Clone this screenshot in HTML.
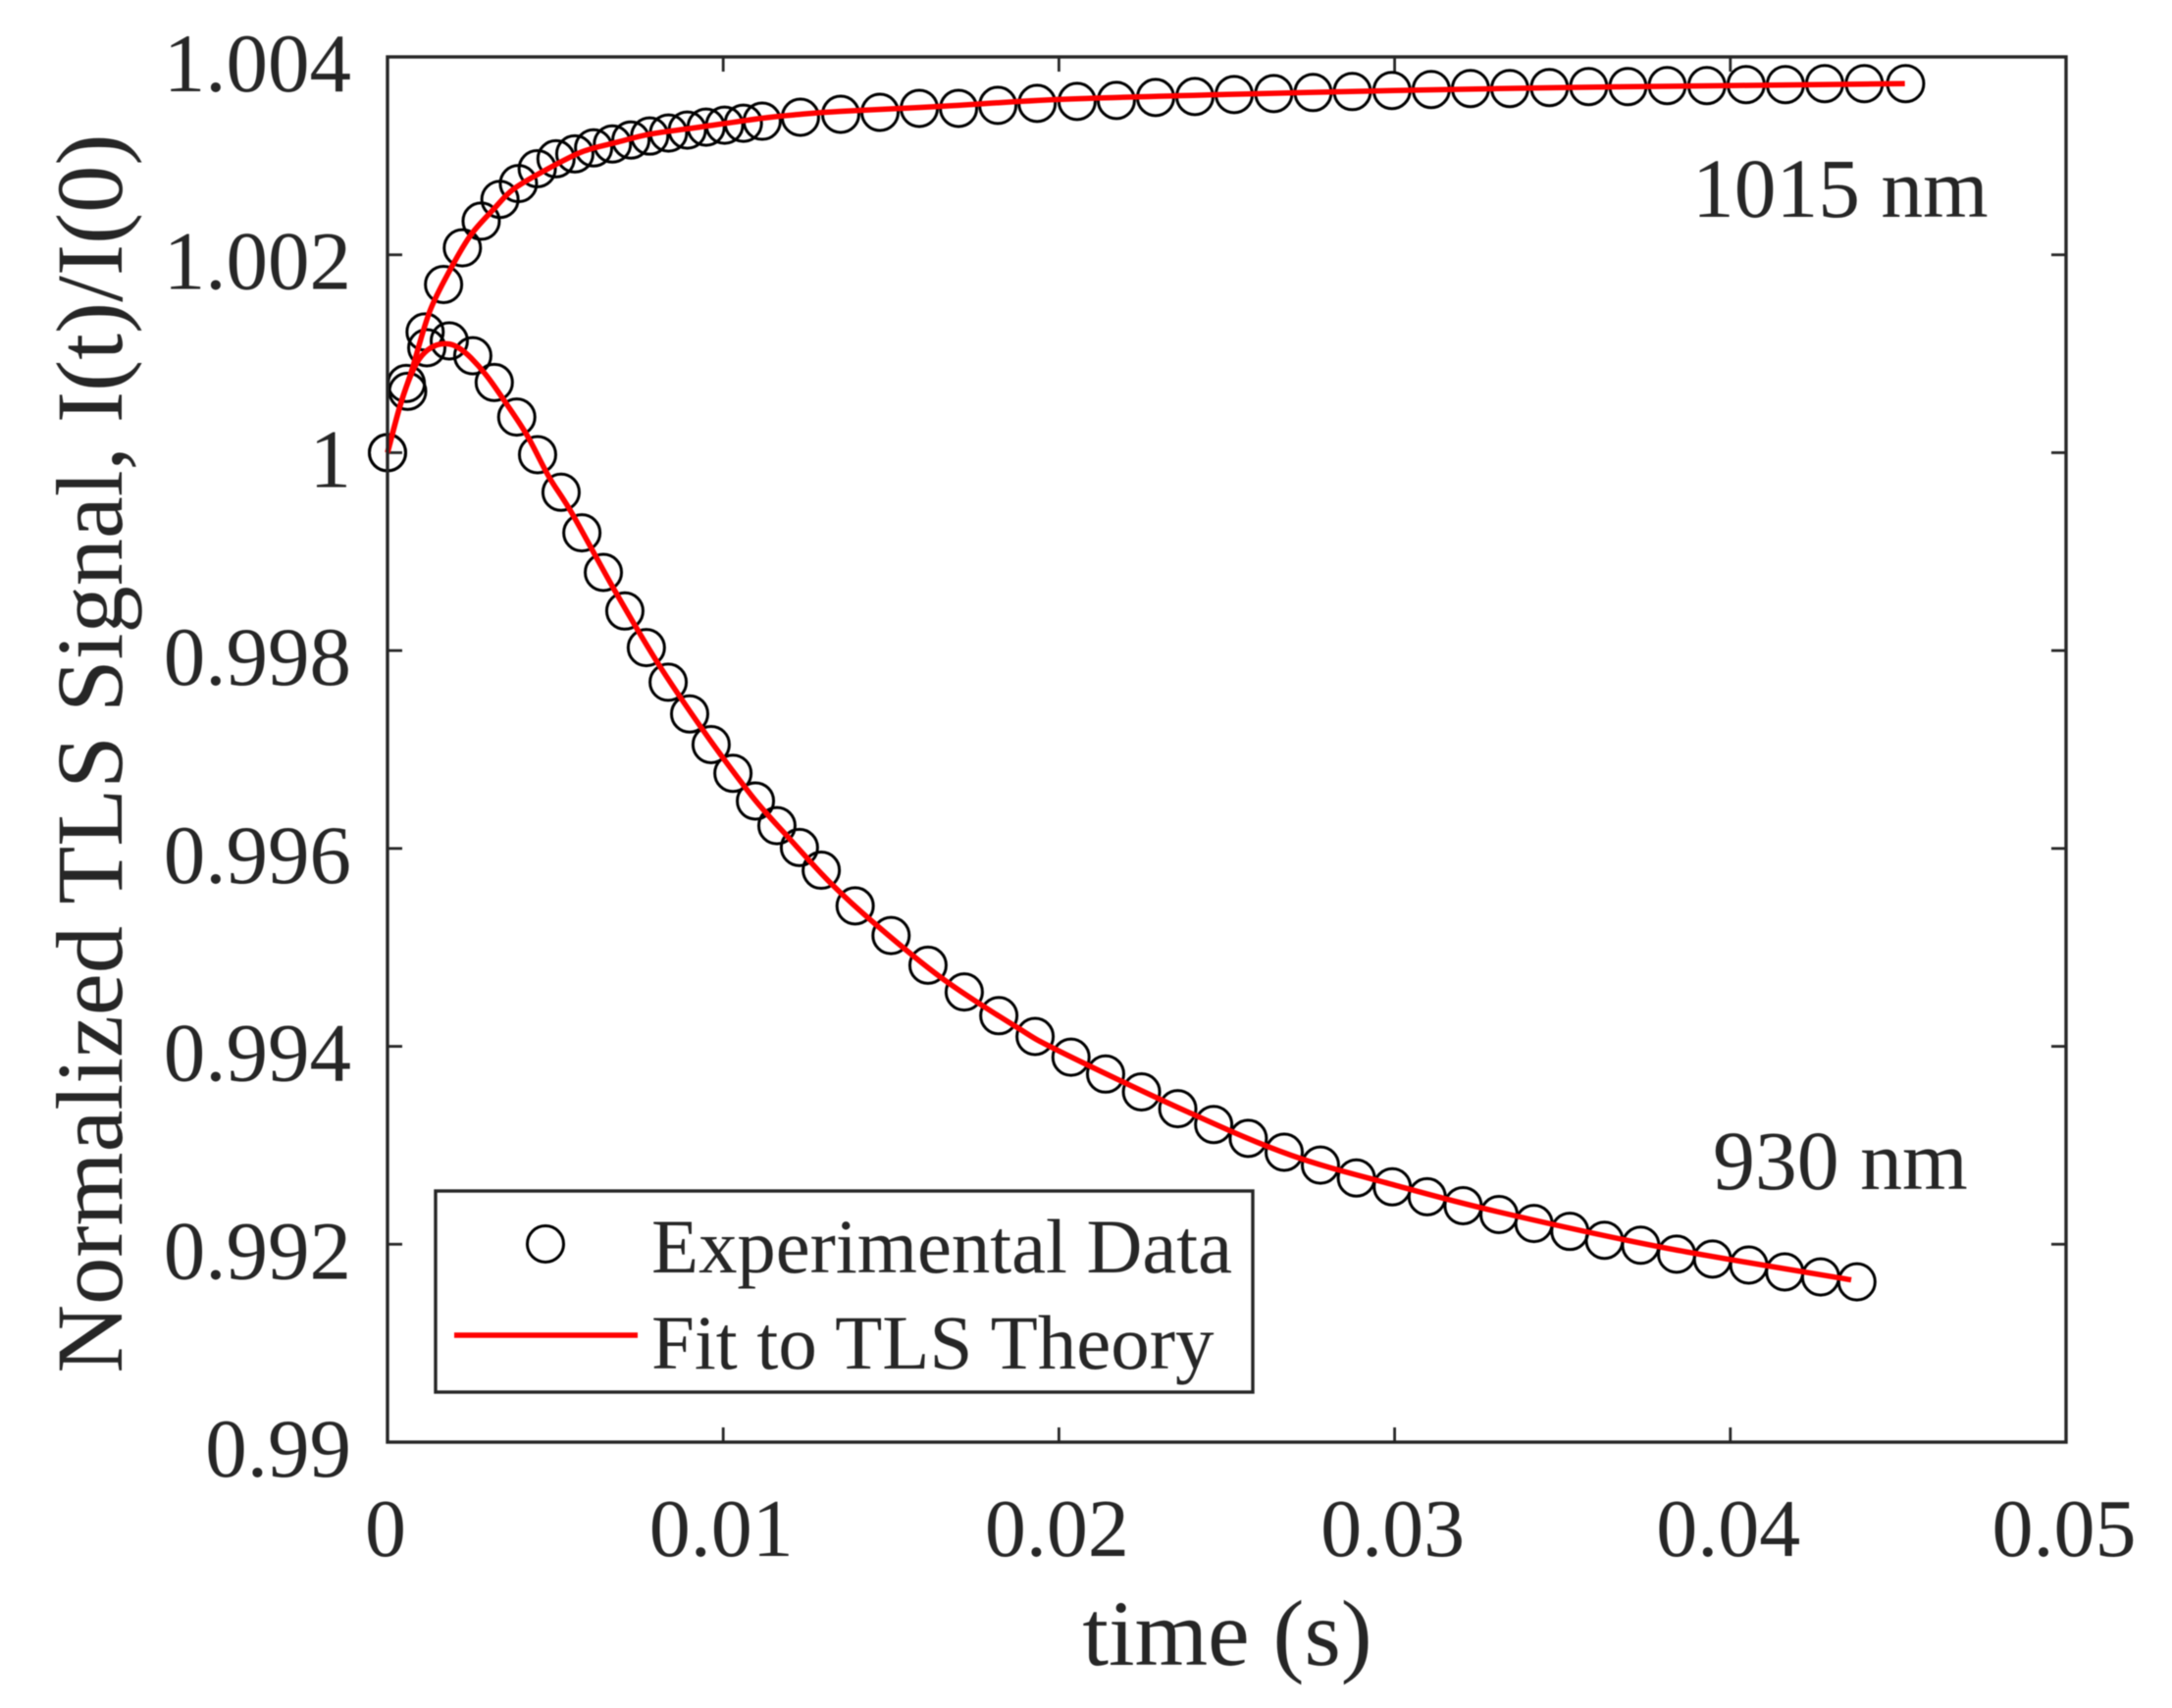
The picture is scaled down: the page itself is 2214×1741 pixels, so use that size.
<!DOCTYPE html>
<html lang="en">
<head>
<meta charset="utf-8">
<title>Normalized TLS Signal vs Time</title>
<style>
  html,body{margin:0;padding:0;background:#fff;}
  body{width:2214px;height:1741px;overflow:hidden;}
  svg{display:block;filter:blur(0.6px);}
  text{font-family:"Liberation Serif","Times New Roman",serif;fill:#262626;}
</style>
</head>
<body>
<svg id="chart" xmlns="http://www.w3.org/2000/svg" width="2214" height="1741" viewBox="0 0 2214 1741">
  <rect x="0" y="0" width="2214" height="1741" fill="#fff"/>
  <g id="ticks"></g>
  <g id="tick-labels"></g>
  <g id="series"></g>
  <rect x="395" y="58" width="1711" height="1412" fill="none" stroke="#262626" stroke-width="3.4"/>
  <text x="1251" y="1697" font-size="95.8" text-anchor="middle">time (s)</text>
  <text transform="translate(124,768) rotate(-90)" font-size="96.5" text-anchor="middle">Normalized TLS Signal, I(t)/I(0)</text>
  <text x="1725" y="221" font-size="85.5" fill="#1a1a1a">1015 nm</text>
  <text x="1746" y="1212" font-size="85.8" fill="#1a1a1a">930 nm</text>
  <g>
    <rect x="444" y="1214" width="833" height="205" fill="#fff" stroke="#262626" stroke-width="3.4"/>
    <circle cx="556" cy="1268" r="18.5" fill="none" stroke="#000" stroke-width="3"/>
    <line x1="463" y1="1361" x2="650" y2="1361" stroke="#ff0000" stroke-width="5.5"/>
    <text x="664" y="1297" font-size="78.7" fill="#1a1a1a">Experimental Data</text>
    <text x="664" y="1395" font-size="78.9" fill="#1a1a1a">Fit to TLS Theory</text>
  </g>
</svg>
<script>
// Axis ticks
const xTicks = [0, 0.01, 0.02, 0.03, 0.04, 0.05];
const xTickLabels = ["0", "0.01", "0.02", "0.03", "0.04", "0.05"];
const yTicks = [0.99, 0.992, 0.994, 0.996, 0.998, 1, 1.002, 1.004];
const yTickLabels = ["0.99", "0.992", "0.994", "0.996", "0.998", "1", "1.002", "1.004"];

// 1015 nm experimental data
const time1015 = [0, 0.00056, 0.00112, 0.00167, 0.00223, 0.00279, 0.00335, 0.0039, 0.00446, 0.00502, 0.00558, 0.00614, 0.0067, 0.00725, 0.00781, 0.00837, 0.00893, 0.00949, 0.01004, 0.0106, 0.01116, 0.0123, 0.0135, 0.01467, 0.01584, 0.01701, 0.01818, 0.01935, 0.02054, 0.02171, 0.02288, 0.02405, 0.02522, 0.0264, 0.02757, 0.02874, 0.02992, 0.03109, 0.03226, 0.03343, 0.03461, 0.03578, 0.03695, 0.03812, 0.0393, 0.04047, 0.04164, 0.04281, 0.04399, 0.04522];
const signal1015 = [1.0000, 1.0007, 1.00122, 1.0017, 1.00207, 1.00234, 1.00256, 1.00272, 1.00287, 1.00297, 1.00302, 1.00308, 1.00312, 1.00316, 1.0032, 1.00323, 1.00326, 1.00329, 1.00331, 1.00333, 1.00335, 1.00339, 1.00342, 1.00344, 1.00348, 1.00348, 1.00351, 1.00353, 1.00355, 1.00356, 1.00359, 1.0036, 1.00362, 1.00363, 1.00364, 1.00365, 1.00366, 1.00367, 1.00368, 1.00368, 1.00369, 1.0037, 1.0037, 1.00371, 1.00371, 1.00372, 1.00372, 1.00373, 1.00373, 1.00373];

// 1015 nm fit
const fitTime1015 = [0, 0.00038, 0.00073, 0.00126, 0.0019, 0.00248, 0.00316, 0.00374, 0.00462, 0.00579, 0.00687, 0.00783, 0.00929, 0.01116, 0.0123, 0.0135, 0.0165, 0.02, 0.025, 0.03, 0.035, 0.04, 0.0452];
const fitSignal1015 = [1.0000, 1.00048, 1.00084, 1.00143, 1.00187, 1.0022, 1.00246, 1.00266, 1.00284, 1.00304, 1.00314, 1.00322, 1.00329, 1.00338, 1.00342, 1.00345, 1.0035, 1.00357, 1.00362, 1.00366, 1.00369, 1.00371, 1.00373];

// 930 nm experimental data
const time930 = [0, 0.0006, 0.00117, 0.00184, 0.00254, 0.00318, 0.00385, 0.00447, 0.00517, 0.00579, 0.00643, 0.00707, 0.00771, 0.00836, 0.009, 0.00964, 0.01029, 0.01096, 0.0116, 0.01227, 0.01292, 0.01393, 0.015, 0.0161, 0.01718, 0.01821, 0.01929, 0.02036, 0.02139, 0.02246, 0.02354, 0.02461, 0.02564, 0.02671, 0.02779, 0.02886, 0.02993, 0.03097, 0.03204, 0.03311, 0.03415, 0.03522, 0.03625, 0.03733, 0.0384, 0.03947, 0.04055, 0.04162, 0.04269, 0.04377];
const signal930 = [1.0000, 1.00062, 1.00106, 1.00113, 1.00098, 1.00071, 1.00036, 0.99998, 0.9996, 0.99919, 0.99879, 0.9984, 0.99803, 0.99768, 0.99736, 0.99705, 0.99676, 0.99648, 0.99623, 0.99601, 0.99578, 0.99542, 0.99512, 0.99482, 0.99455, 0.99431, 0.9941, 0.99389, 0.99372, 0.99354, 0.99337, 0.99321, 0.99307, 0.99293, 0.9928, 0.99267, 0.99258, 0.99248, 0.99239, 0.9923, 0.99221, 0.99213, 0.99204, 0.99199, 0.9919, 0.99185, 0.99179, 0.99172, 0.99167, 0.99162];

// 930 nm fit
const fitTime930 = [0, 0.00038, 0.00073, 0.00102, 0.0014, 0.0018, 0.00212, 0.00248, 0.00295, 0.00345, 0.00415, 0.00482, 0.00549, 0.00678, 0.00804, 0.00941, 0.01067, 0.01125, 0.01192, 0.0132, 0.01455, 0.01651, 0.01876, 0.02002, 0.02382, 0.02691, 0.02998, 0.03305, 0.03795, 0.0436];
const fitSignal930 = [1.0000, 1.00048, 1.00081, 1.00098, 1.00108, 1.0011, 1.00106, 1.00096, 1.00078, 1.00054, 1.00018, 0.99975, 0.99939, 0.9986, 0.99788, 0.99719, 0.99661, 0.99637, 0.99612, 0.99565, 0.99523, 0.99469, 0.99419, 0.99395, 0.99334, 0.9929, 0.9926, 0.99233, 0.99197, 0.99164];

const SVG_NS = "http://www.w3.org/2000/svg";
const plot = {left: 395, right: 2106, top: 58, bottom: 1470};
const xDomain = [0, 0.05];
const yDomain = [0.99, 1.004];
const tickLength = 15;

function xScale(v) {
  return plot.left + (v - xDomain[0]) / (xDomain[1] - xDomain[0]) * (plot.right - plot.left);
}
function yScale(v) {
  return plot.bottom - (v - yDomain[0]) / (yDomain[1] - yDomain[0]) * (plot.bottom - plot.top);
}
function svgEl(tag, parent) {
  const el = document.createElementNS(SVG_NS, tag);
  parent.appendChild(el);
  return el;
}
function tickLine(parent, x1, y1, x2, y2) {
  const el = svgEl("line", parent);
  
  
  el.setAttribute("x1", x1);
  el.setAttribute("y1", y1);
  el.setAttribute("x2", x2);
  el.setAttribute("y2", y2);
  el.setAttribute("stroke", "#262626");
  el.setAttribute("stroke-width", "2.8");
}

const tickGroup = document.getElementById("ticks");
const labelGroup = document.getElementById("tick-labels");

xTicks.forEach(function (v, i) {
  const x = xScale(v);
  tickLine(tickGroup, x, plot.bottom, x, plot.bottom - tickLength);
  tickLine(tickGroup, x, plot.top, x, plot.top + tickLength);
  const t = svgEl("text", labelGroup);
  
  
  t.setAttribute("x", x - 2);
  t.setAttribute("y", plot.bottom + 116);
  t.setAttribute("font-size", "84");
  t.setAttribute("text-anchor", "middle");
  t.textContent = xTickLabels[i];
});

yTicks.forEach(function (v, i) {
  const y = yScale(v);
  tickLine(tickGroup, plot.left, y, plot.left + tickLength, y);
  tickLine(tickGroup, plot.right, y, plot.right - tickLength, y);
  const t = svgEl("text", labelGroup);
  
  
  t.setAttribute("x", 358);
  t.setAttribute("y", y + 35);
  t.setAttribute("font-size", "85");
  t.setAttribute("text-anchor", "end");
  t.textContent = yTickLabels[i];
});

const seriesGroup = document.getElementById("series");

function drawMarkers(times, values) {
  const g = svgEl("g", seriesGroup);
  
  
  times.forEach(function (tv, i) {
    const c = svgEl("circle", g);
    
    
    c.setAttribute("cx", xScale(tv));
    c.setAttribute("cy", yScale(values[i]));
    c.setAttribute("r", "18.5");
    c.setAttribute("fill", "none");
    c.setAttribute("stroke", "#000");
    c.setAttribute("stroke-width", "3");
  });
}
function drawFit(times, values) {
  const pts = times.map(function (tv, i) {
    return [xScale(tv), yScale(values[i])];
  });
  let d = "M" + pts[0][0].toFixed(1) + "," + pts[0][1].toFixed(1);
  for (let i = 0; i < pts.length - 1; i++) {
    const p0 = pts[Math.max(i - 1, 0)];
    const p1 = pts[i];
    const p2 = pts[i + 1];
    const p3 = pts[Math.min(i + 2, pts.length - 1)];
    const c1x = p1[0] + (p2[0] - p0[0]) / 6;
    const c1y = p1[1] + (p2[1] - p0[1]) / 6;
    const c2x = p2[0] - (p3[0] - p1[0]) / 6;
    const c2y = p2[1] - (p3[1] - p1[1]) / 6;
    d += " C" + c1x.toFixed(1) + "," + c1y.toFixed(1) + " " + c2x.toFixed(1) + "," + c2y.toFixed(1) + " " + p2[0].toFixed(1) + "," + p2[1].toFixed(1);
  }
  const p = svgEl("path", seriesGroup);
  
  
  p.setAttribute("d", d);
  p.setAttribute("fill", "none");
  p.setAttribute("stroke", "#ff0000");
  p.setAttribute("stroke-width", "5.5");
  p.setAttribute("stroke-linejoin", "round");
}

drawMarkers(time1015, signal1015);
drawMarkers(time930, signal930);
drawFit(fitTime1015, fitSignal1015);
drawFit(fitTime930, fitSignal930);
</script>
</body>
</html>
